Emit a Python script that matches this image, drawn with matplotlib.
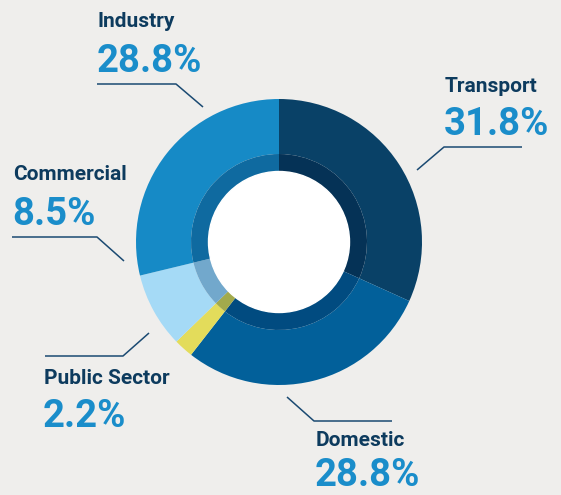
import matplotlib
matplotlib.use("Agg")
import matplotlib.pyplot as plt
from matplotlib.patches import Circle

# ---- data ----
categories = ["Transport", "Domestic", "Public Sector", "Commercial", "Industry"]
shares = [31.8, 28.8, 2.2, 8.5, 28.8]
pct_labels = ["31.8%", "28.8%", "2.2%", "8.5%", "28.8%"]

outer_colors = ["#094167", "#02609a", "#e3dc5b", "#a5daf6", "#168ac6"]
inner_colors = ["#053256", "#014b80", "#a2aa4c", "#72a8cc", "#0f6aa0"]

W, H = 561, 495
BG = "#efeeec"
NAME_C = "#0d3b5e"
PCT_C = "#1a8dca"
LINE_C = "#1b4a72"

fig = plt.figure(figsize=(W / 100, H / 100), dpi=100, facecolor=BG)
ax = fig.add_axes([0, 0, 1, 1])
ax.set_xlim(0, W)
ax.set_ylim(0, H)
ax.set_aspect("equal")
ax.axis("off")
ax.set_facecolor(BG)

cx, cy = 279, H - 242
R_out, R_mid, R_in = 143, 88, 70

ax.pie(shares, colors=outer_colors, startangle=90, counterclock=False,
       radius=R_out, center=(cx, cy), frame=True,
       wedgeprops=dict(width=R_out - R_mid, linewidth=0))
ax.pie(shares, colors=inner_colors, startangle=90, counterclock=False,
       radius=R_mid, center=(cx, cy), frame=True,
       wedgeprops=dict(width=R_mid - R_in, linewidth=0))
ax.add_patch(Circle((cx, cy), R_in + 0.5, color="white", zorder=5))
ax.set_xlim(0, W)
ax.set_ylim(0, H)
ax.axis("off")

# label layout: (name_x, name_baseline_px, pct_baseline_px, leader polyline in px)
layout = {
    "Transport": (445, 92, 135, [(522, 147), (444, 147), (417, 170)]),
    "Domestic": (316, 446, 485.5, [(287, 397), (314, 421), (392, 421)]),
    "Public Sector": (44, 384, 427, [(45, 356), (123, 356), (149, 333)]),
    "Commercial": (13, 180, 225, [(12, 237), (97, 237), (124, 261)]),
    "Industry": (98, 27, 71.5, [(97, 84), (176, 84), (203, 107)]),
}

font = ["Roboto", "DejaVu Sans"]
for name, pct in zip(categories, pct_labels):
    x, yn, yp, pts = layout[name]
    ax.text(x, H - yn, name, family=font, fontweight="bold", fontsize=15,
            color=NAME_C, ha="left", va="baseline")
    ax.text(x - 1, H - yp, pct, family=font, fontweight="bold", fontsize=27.5,
            color=PCT_C, ha="left", va="baseline")
    xs = [p[0] for p in pts]
    ys = [H - p[1] for p in pts]
    ax.plot(xs, ys, color=LINE_C, lw=1.1, solid_capstyle="butt")

fig.savefig("out.png", dpi=100, facecolor=BG)
